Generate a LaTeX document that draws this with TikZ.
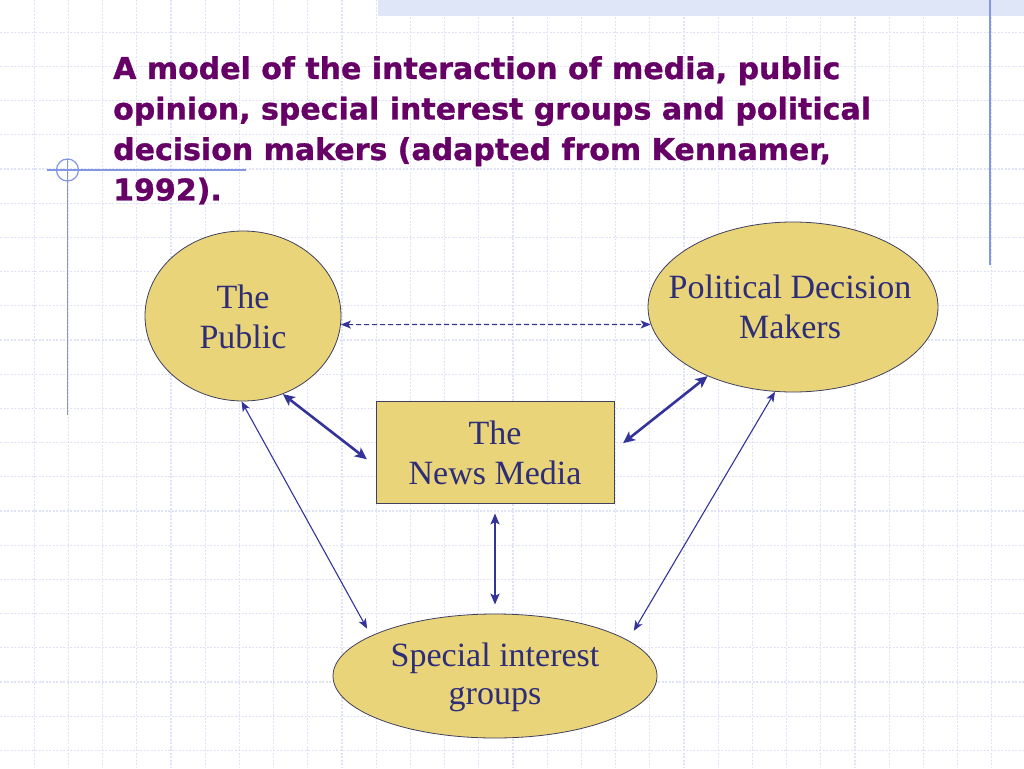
\documentclass[tikz,border=0pt]{standalone}
\usepackage{fontspec}
\setmainfont{Liberation Serif}
\newfontfamily\titlefont[BoldFeatures={FakeBold=1}]{DejaVu Sans}
\usetikzlibrary{shapes.geometric,arrows.meta}
\definecolor{gold}{RGB}{233,212,122}
\definecolor{edgec}{RGB}{64,64,96}
\definecolor{arrowc}{RGB}{51,51,153}
\definecolor{txtc}{RGB}{45,45,120}
\definecolor{titlec}{RGB}{102,0,102}
\definecolor{gridc}{RGB}{224,227,248}
\definecolor{decoc}{RGB}{130,150,230}
\definecolor{bandc}{RGB}{222,230,248}
\tikzset{
  gridline/.style={gridc, line width=1.2pt, dash pattern=on 2pt off 1.5pt},
  decoline/.style={decoc, line width=1.2pt},
  ell/.style={ellipse, draw=edgec, line width=0.8pt, fill=gold, inner sep=0pt},
  newsbox/.style={rectangle, draw=edgec, line width=0.8pt, fill=gold, inner sep=0pt},
  lbl/.style={align=center, text=txtc, font=\fontsize{34}{40}\selectfont, inner sep=0pt},
  thickarr/.style={arrowc, line width=2.6pt,
    {Stealth[length=12pt,width=11pt,inset=3pt]}-{Stealth[length=12pt,width=11pt,inset=3pt]}},
  midarr/.style={arrowc, line width=2pt,
    {Stealth[length=11pt,width=9pt,inset=2.5pt]}-{Stealth[length=11pt,width=9pt,inset=2.5pt]}},
  thinarr/.style={arrowc, line width=1.1pt,
    {Stealth[length=10pt,width=8pt,inset=2.5pt]}-{Stealth[length=10pt,width=8pt,inset=2.5pt]}},
  dasharr/.style={thinarr, dash pattern=on 5pt off 3pt},
}
\begin{document}
\begin{tikzpicture}[x=1pt,y=-1pt]
\useasboundingbox (0,0) rectangle (1024,768);
\fill[white] (0,0) rectangle (1024,768);
% grid
\foreach \k in {1,...,29} \draw[gridline] (34.2*\k,0) -- (34.2*\k,768);
\foreach \k in {1,...,22} \draw[gridline] (0,34.2*\k-2) -- (1024,34.2*\k-2);
% decorations
\fill[bandc] (378,0) rectangle (1024,16);
\draw[decoline] (990,0) -- (990,265);
\draw[decoline] (47,170) -- (246,170);
\draw[decoline] (67.5,158.5) -- (67.5,415);
\draw[decoline] (67.5,170) circle[radius=11];
% title
\node[anchor=north west, align=left, inner sep=0pt, text=titlec,
      font=\titlefont\bfseries\fontsize{30}{40.5}\selectfont] (title) at (113,56)
  {A model of the interaction of media, public\\
   opinion, special interest groups and political\\
   decision makers (adapted from Kennamer,\\
   1992).};
% nodes
\node[ell, minimum width=196pt, minimum height=170pt] (pub) at (243,316) {};
\node[lbl] (pubtxt) at (243,316.5) {The\\Public};
\node[ell, minimum width=290pt, minimum height=170pt] (pol) at (793,307) {};
\node[lbl] (poltxt) at (790,307) {Political Decision\\Makers};
\node[newsbox, minimum width=238pt, minimum height=102pt] (news) at (495,452) {};
\node[lbl] (newstxt) at (495,452.5) {The\\News Media};
\node[ell, minimum width=324pt, minimum height=124pt] (sig) at (495,676) {};
\node[lbl, font=\fontsize{34}{38}\selectfont] (sigtxt) at (495,677) {Special interest\\groups};
% connectors
\draw[dasharr] (pub.-5) -- (pol.-173);
\draw[thickarr, shorten >=11pt] (pub.-63) -- ([yshift=-14pt]news.west);
\draw[thickarr, shorten >=11pt] (pol.-141) -- ([yshift=2pt]news.east);
\draw[thinarr, shorten >=8pt] (pub.-91) -- (sig.162.6);
\draw[thinarr, shorten >=11pt] (pol.-102) -- (sig.15.4);
\draw[midarr, shorten <=10pt, shorten >=9pt] (news.south) -- (sig.north);
\end{tikzpicture}
\end{document}
